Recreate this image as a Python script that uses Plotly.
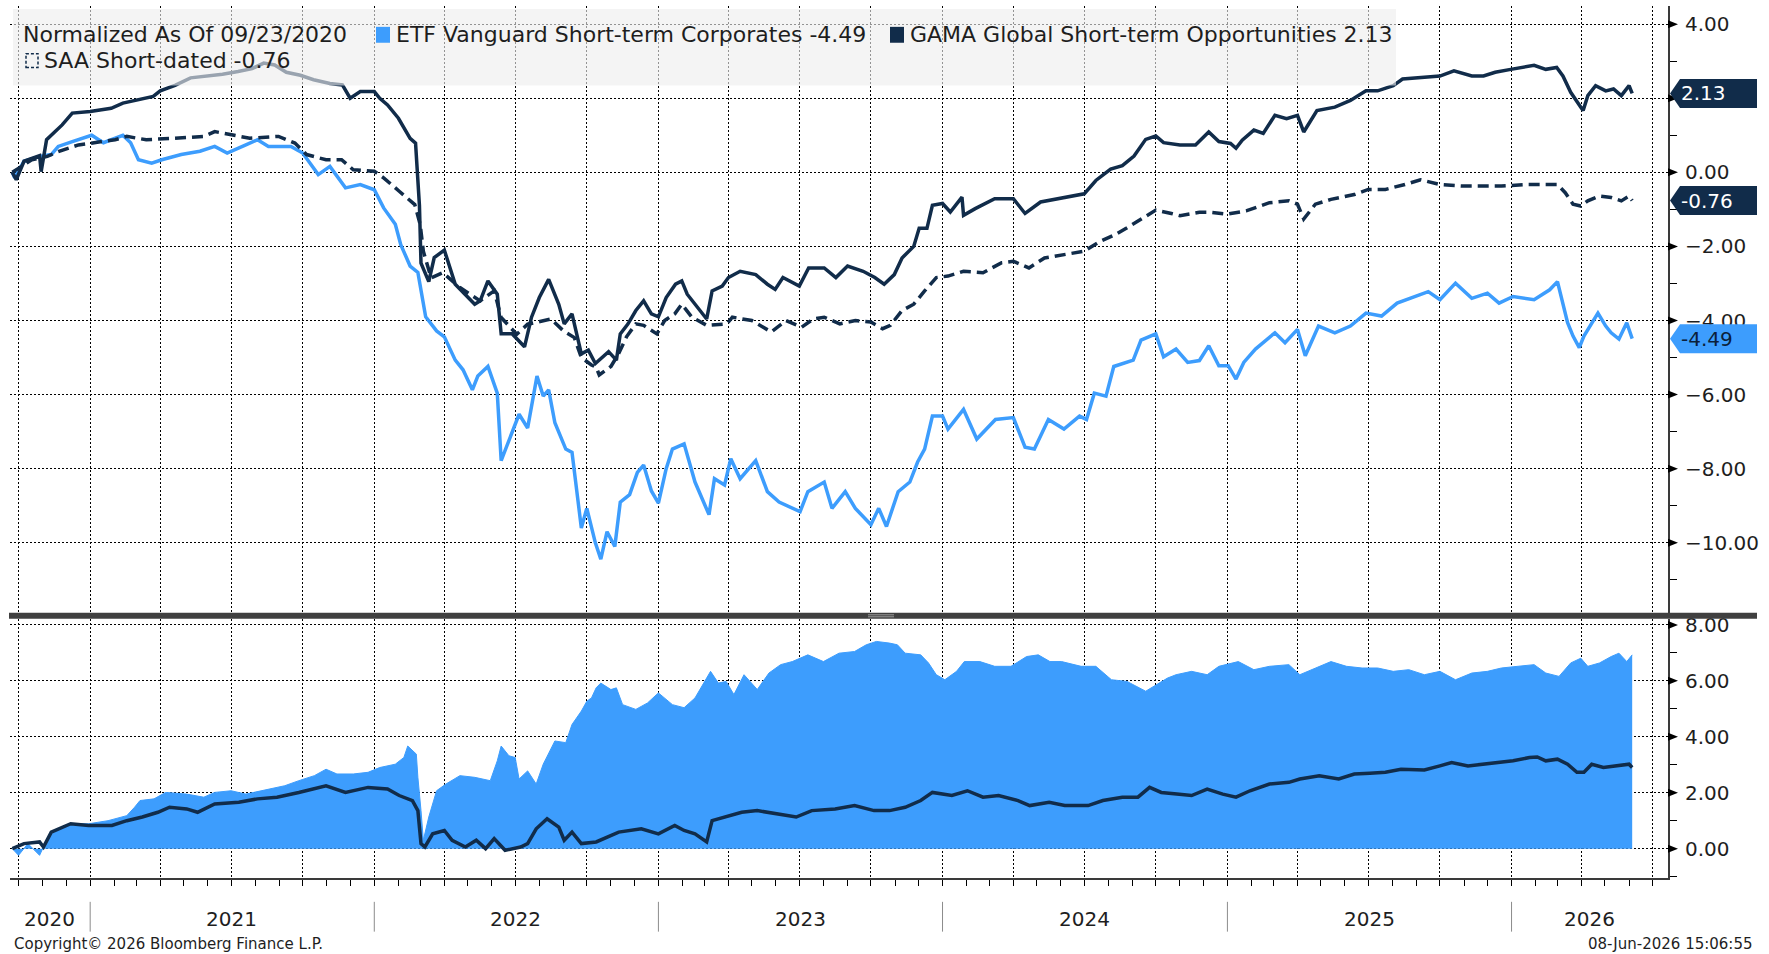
import plotly.graph_objects as go
from datetime import date, timedelta

# ---------------- data ----------------
gama_dates = ["2020-09-23","2020-09-28","2020-10-08","2020-10-20","2020-10-28","2020-10-30","2020-11-06","2020-11-26","2020-12-09","2021-01-01",
"2021-01-28","2021-02-12","2021-03-23","2021-04-01","2021-04-20","2021-05-10","2021-06-01","2021-06-20","2021-07-10","2021-07-28",
"2021-08-12","2021-08-26","2021-09-10","2021-09-28","2021-10-15","2021-11-05","2021-11-21","2021-12-01","2021-12-14","2022-01-01",
"2022-01-08","2022-01-18","2022-02-01","2022-02-16","2022-02-23","2022-02-28","2022-03-02","2022-03-12","2022-03-19","2022-04-01",
"2022-04-15","2022-04-30","2022-05-10","2022-05-17","2022-05-27","2022-06-08","2022-06-13","2022-06-27","2022-07-13","2022-07-22",
"2022-08-01","2022-08-13","2022-08-26","2022-09-02","2022-09-12","2022-09-24","2022-10-03","2022-10-12","2022-10-22","2022-10-29",
"2022-11-08","2022-11-13","2022-11-23","2022-12-03","2022-12-13","2022-12-23","2023-01-01","2023-01-11","2023-01-23","2023-01-31",
"2023-02-07","2023-02-17","2023-02-27","2023-03-04","2023-03-11","2023-03-24","2023-04-01","2023-04-16","2023-05-06","2023-05-21",
"2023-05-31","2023-06-10","2023-07-01","2023-07-13","2023-08-02","2023-08-17","2023-09-01","2023-09-21","2023-10-06","2023-10-18",
"2023-10-31","2023-11-10","2023-11-25","2023-12-02","2023-12-12","2023-12-19","2024-01-01","2024-01-11","2024-01-26","2024-01-28",
"2024-02-12","2024-03-08","2024-04-01","2024-04-16","2024-05-06","2024-05-31","2024-07-01","2024-07-16","2024-08-04","2024-08-19",
"2024-09-03","2024-09-18","2024-10-01","2024-10-11","2024-11-01","2024-11-21","2024-12-08","2024-12-21","2025-01-05","2025-01-12",
"2025-01-20","2025-02-04","2025-02-16","2025-03-03","2025-03-18","2025-04-01","2025-04-09","2025-04-26","2025-05-19","2025-06-08",
"2025-06-28","2025-07-13","2025-08-02","2025-08-14","2025-09-11","2025-10-01","2025-10-19","2025-11-11","2025-11-26","2025-12-11",
"2025-12-31","2026-01-30","2026-02-14","2026-02-28","2026-03-08","2026-03-18","2026-03-31","2026-04-03","2026-04-09","2026-04-19",
"2026-05-02","2026-05-12","2026-05-22","2026-06-01","2026-06-05"]
gama_values = [0.00,-0.20,0.30,0.40,0.45,0.02,0.88,1.28,1.60,1.64,
1.73,1.87,2.05,2.20,2.35,2.55,2.60,2.65,2.72,2.80,
2.95,2.90,2.70,2.62,2.50,2.40,2.36,2.00,2.18,2.18,
2.00,1.82,1.46,0.92,0.79,-0.90,-2.45,-2.95,-2.30,-2.10,
-3.02,-3.33,-3.56,-3.47,-2.93,-3.29,-4.36,-4.36,-4.71,-3.91,
-3.38,-2.89,-3.56,-4.09,-3.82,-4.90,-4.80,-5.16,-4.98,-4.84,
-5.07,-4.36,-4.09,-3.73,-3.47,-3.82,-3.90,-3.38,-3.02,-2.93,
-3.29,-3.56,-3.82,-3.96,-3.20,-3.07,-2.84,-2.67,-2.76,-3.02,
-3.16,-2.84,-3.07,-2.58,-2.58,-2.84,-2.53,-2.67,-2.84,-3.02,
-2.76,-2.31,-2.00,-1.51,-1.51,-0.89,-0.84,-1.07,-0.67,-1.16,
-0.98,-0.71,-0.71,-1.11,-0.80,-0.71,-0.58,-0.22,0.09,0.18,
0.44,0.89,0.98,0.80,0.74,0.74,1.09,0.83,0.78,0.65,
0.87,1.14,1.05,1.54,1.45,1.54,1.09,1.67,1.76,1.94,
2.20,2.20,2.34,2.52,2.56,2.60,2.74,2.60,2.60,2.70,
2.78,2.89,2.78,2.83,2.60,2.16,1.76,1.67,2.07,2.34,
2.20,2.25,2.07,2.34,2.13]

etf_dates = ["2020-09-23","2020-09-26","2020-10-08","2020-10-28","2020-11-12","2020-11-21","2020-12-09","2021-01-03","2021-01-18","2021-02-02",
"2021-02-12","2021-02-22","2021-03-04","2021-03-21","2021-04-03","2021-04-28","2021-05-22","2021-06-10","2021-06-26","2021-07-20",
"2021-08-04","2021-08-18","2021-09-16","2021-10-01","2021-10-21","2021-11-05","2021-11-25","2021-12-14","2022-01-01","2022-01-13",
"2022-01-28","2022-02-04","2022-02-16","2022-02-26","2022-03-08","2022-03-22","2022-04-01","2022-04-15","2022-04-25","2022-05-07",
"2022-05-14","2022-05-27","2022-06-08","2022-06-13","2022-06-22","2022-07-06","2022-07-17","2022-07-29","2022-08-06","2022-08-13",
"2022-08-21","2022-09-04","2022-09-12","2022-09-24","2022-10-01","2022-10-12","2022-10-19","2022-10-27","2022-11-06","2022-11-13",
"2022-11-25","2022-12-05","2022-12-13","2022-12-23","2023-01-01","2023-01-11","2023-01-19","2023-02-03","2023-02-17","2023-03-07",
"2023-03-14","2023-03-27","2023-04-04","2023-04-16","2023-05-06","2023-05-21","2023-06-05","2023-07-02","2023-07-12","2023-08-02",
"2023-08-12","2023-08-29","2023-09-11","2023-10-01","2023-10-11","2023-10-21","2023-11-05","2023-11-20","2023-11-30","2023-12-09",
"2023-12-19","2024-01-01","2024-01-08","2024-01-28","2024-02-14","2024-03-09","2024-04-01","2024-04-16","2024-04-28","2024-05-16",
"2024-06-05","2024-06-25","2024-07-04","2024-07-14","2024-07-29","2024-08-08","2024-09-02","2024-09-12","2024-10-01","2024-10-11",
"2024-10-27","2024-11-11","2024-11-26","2024-12-08","2024-12-21","2025-01-02","2025-01-12","2025-01-22","2025-02-06","2025-03-03",
"2025-03-16","2025-04-01","2025-04-11","2025-04-28","2025-05-19","2025-06-08","2025-06-28","2025-07-18","2025-08-07","2025-09-01",
"2025-09-16","2025-10-01","2025-10-21","2025-11-11","2025-12-01","2025-12-16","2026-01-03","2026-01-30","2026-02-19","2026-03-01",
"2026-03-06","2026-03-14","2026-03-21","2026-03-29","2026-04-04","2026-04-14","2026-04-22","2026-05-02","2026-05-09","2026-05-19",
"2026-05-29","2026-06-05"]
etf_values = [0.00,-0.15,0.30,0.43,0.48,0.70,0.83,1.00,0.80,0.92,
1.00,0.80,0.34,0.25,0.34,0.48,0.57,0.70,0.52,0.74,
0.88,0.70,0.70,0.52,-0.06,0.16,-0.42,-0.33,-0.47,-0.96,
-1.40,-1.95,-2.53,-2.70,-3.90,-4.28,-4.44,-5.07,-5.33,-5.87,
-5.50,-5.24,-5.96,-7.78,-7.30,-6.53,-6.90,-5.50,-6.04,-5.87,
-6.76,-7.47,-7.56,-9.60,-9.07,-10.00,-10.44,-9.70,-10.10,-8.90,
-8.70,-8.10,-7.90,-8.60,-8.93,-8.00,-7.47,-7.33,-8.36,-9.24,
-8.27,-8.44,-7.73,-8.27,-7.78,-8.62,-8.90,-9.16,-8.62,-8.36,
-9.07,-8.62,-9.07,-9.51,-9.07,-9.56,-8.62,-8.36,-7.82,-7.47,
-6.58,-6.58,-6.93,-6.40,-7.20,-6.67,-6.62,-7.42,-7.47,-6.67,
-6.93,-6.58,-6.67,-5.96,-6.04,-5.24,-5.07,-4.53,-4.36,-4.98,
-4.77,-5.13,-5.08,-4.68,-5.22,-5.22,-5.58,-5.13,-4.77,-4.33,
-4.60,-4.24,-4.95,-4.15,-4.33,-4.15,-3.80,-3.88,-3.53,-3.35,
-3.22,-3.44,-2.99,-3.40,-3.26,-3.53,-3.35,-3.44,-3.17,-2.95,
-3.35,-4.06,-4.42,-4.73,-4.42,-4.06,-3.80,-4.15,-4.33,-4.50,
-4.06,-4.49]

saa_dates = ["2020-09-23","2020-10-18","2020-11-07","2020-11-21","2020-12-17","2021-01-03","2021-02-02","2021-02-17","2021-03-14","2021-04-19",
"2021-05-27","2021-06-10","2021-07-01","2021-07-25","2021-08-31","2021-09-21","2021-10-06","2021-10-31","2021-11-20","2021-12-05",
"2022-01-01","2022-01-13","2022-02-02","2022-02-22","2022-03-01","2022-03-05","2022-03-15","2022-03-30","2022-04-21","2022-05-17",
"2022-06-04","2022-06-13","2022-07-03","2022-07-17","2022-07-28","2022-08-16","2022-09-01","2022-09-15","2022-09-24","2022-10-07",
"2022-10-13","2022-10-17","2022-11-01","2022-11-11","2022-11-21","2022-12-03","2022-12-13","2022-12-30","2023-01-09","2023-01-22",
"2023-01-31","2023-02-13","2023-03-04","2023-03-30","2023-04-06","2023-05-01","2023-05-26","2023-06-14","2023-07-04","2023-07-19",
"2023-08-02","2023-08-22","2023-09-11","2023-10-01","2023-10-16","2023-10-26","2023-11-10","2023-11-25","2023-12-09","2023-12-24",
"2024-01-08","2024-01-28","2024-02-22","2024-03-17","2024-04-01","2024-04-21","2024-05-11","2024-06-05","2024-07-01","2024-07-21",
"2024-08-09","2024-08-24","2024-09-13","2024-10-01","2024-10-21","2024-11-01","2024-11-26","2024-12-11","2024-12-31","2025-01-25",
"2025-02-24","2025-03-21","2025-04-01","2025-04-09","2025-04-24","2025-05-14","2025-06-13","2025-07-01","2025-07-23","2025-08-17",
"2025-09-06","2025-10-01","2025-10-31","2025-11-26","2025-12-19","2026-01-18","2026-03-01","2026-03-11","2026-03-21","2026-03-31",
"2026-04-09","2026-04-24","2026-05-09","2026-05-22","2026-06-01","2026-06-05"]
saa_values = [0.00,0.34,0.43,0.56,0.74,0.79,0.88,0.97,0.88,0.92,
0.97,1.10,1.01,0.92,0.97,0.79,0.48,0.34,0.34,0.07,
0.03,-0.15,-0.51,-0.87,-1.41,-2.13,-2.85,-2.71,-3.11,-3.47,
-3.20,-3.92,-4.37,-4.10,-4.05,-3.96,-4.28,-4.46,-5.00,-5.20,
-5.26,-5.47,-5.24,-4.89,-4.44,-4.09,-4.13,-4.36,-4.00,-3.82,
-3.56,-3.91,-4.13,-4.09,-3.91,-4.00,-4.31,-4.00,-4.18,-3.96,
-3.91,-4.09,-4.00,-4.04,-4.22,-4.13,-3.73,-3.56,-3.20,-2.84,
-2.80,-2.67,-2.71,-2.44,-2.40,-2.58,-2.31,-2.22,-2.13,-1.87,
-1.69,-1.51,-1.24,-1.02,-1.11,-1.17,-1.08,-1.08,-1.13,-1.04,
-0.82,-0.77,-0.86,-1.26,-0.86,-0.73,-0.60,-0.46,-0.46,-0.33,
-0.20,-0.33,-0.37,-0.37,-0.37,-0.33,-0.33,-0.55,-0.86,-0.91,
-0.77,-0.64,-0.68,-0.77,-0.64,-0.76]

# lower panel: spread vs ETF (area) and spread vs SAA (line)
spread_etf_dates = ["2020-09-23","2020-10-01","2020-10-13","2020-10-28","2020-11-02","2020-11-12","2020-12-07","2020-12-30","2021-01-24","2021-02-17",
"2021-02-27","2021-03-06","2021-03-24","2021-04-08","2021-05-05","2021-05-27","2021-06-10","2021-07-01","2021-07-20","2021-08-11",
"2021-09-08","2021-09-26","2021-10-16","2021-10-31","2021-11-14","2021-12-05","2021-12-24","2022-01-08","2022-01-28","2022-02-08",
"2022-02-13","2022-02-24","2022-02-26","2022-03-02","2022-03-05","2022-03-12","2022-03-22","2022-04-03","2022-04-21","2022-05-10",
"2022-05-30","2022-06-08","2022-06-13","2022-06-23","2022-07-01","2022-07-06","2022-07-17","2022-07-28","2022-08-06","2022-08-21",
"2022-09-04","2022-09-12","2022-09-24","2022-10-01","2022-10-07","2022-10-13","2022-10-19","2022-11-01","2022-11-08","2022-11-16",
"2022-12-03","2022-12-18","2023-01-01","2023-01-19","2023-02-03","2023-02-17","2023-03-09","2023-03-19","2023-03-29","2023-04-08",
"2023-04-21","2023-05-08","2023-05-23","2023-06-07","2023-06-22","2023-07-12","2023-08-01","2023-08-21","2023-09-10","2023-09-25",
"2023-10-08","2023-10-25","2023-11-04","2023-11-14","2023-12-04","2023-12-14","2023-12-24","2024-01-04","2024-01-19","2024-01-29",
"2024-02-18","2024-03-08","2024-03-29","2024-04-18","2024-05-03","2024-05-18","2024-06-02","2024-06-27","2024-07-16","2024-08-05",
"2024-08-25","2024-09-18","2024-10-01","2024-10-16","2024-10-27","2024-11-16","2024-12-06","2024-12-21","2025-01-15","2025-02-04",
"2025-02-24","2025-03-21","2025-04-04","2025-04-24","2025-05-14","2025-06-03","2025-06-23","2025-07-13","2025-08-02","2025-08-22",
"2025-09-11","2025-10-01","2025-10-21","2025-11-11","2025-12-01","2025-12-19","2026-01-13","2026-01-30","2026-02-14","2026-03-03",
"2026-03-18","2026-03-31","2026-04-09","2026-04-24","2026-05-09","2026-05-19","2026-05-29","2026-06-05"]
spread_etf_values = [0.00,-0.24,0.18,-0.24,0.06,0.53,0.89,0.89,1.00,1.18,
1.48,1.72,1.78,2.01,1.95,1.84,2.01,2.07,1.95,2.07,
2.25,2.43,2.61,2.84,2.67,2.67,2.73,2.90,3.02,3.26,
3.67,3.38,2.55,1.36,0.30,1.13,2.07,2.31,2.61,2.55,
2.43,3.14,3.67,3.32,3.26,2.49,2.78,2.31,3.02,3.85,
3.79,4.44,4.92,5.27,5.39,5.75,5.92,5.69,5.75,5.15,
4.98,5.21,5.57,5.15,5.04,5.39,6.34,5.92,5.98,5.51,
6.22,5.69,6.28,6.58,6.69,6.93,6.69,6.99,7.05,7.29,
7.41,7.35,7.29,6.99,6.93,6.64,6.22,6.04,6.34,6.69,
6.69,6.52,6.52,6.87,6.93,6.69,6.69,6.52,6.52,6.04,
5.98,5.63,5.86,6.10,6.22,6.34,6.22,6.52,6.69,6.40,
6.52,6.58,6.22,6.46,6.69,6.52,6.46,6.46,6.34,6.40,
6.22,6.34,6.04,6.28,6.34,6.46,6.52,6.58,6.28,6.16,
6.64,6.81,6.52,6.64,6.87,6.99,6.69,6.93]

spread_saa_dates = ["2020-09-23","2020-10-08","2020-10-28","2020-11-02","2020-11-12","2020-12-07","2020-12-30","2021-01-29","2021-02-17","2021-03-09",
"2021-03-29","2021-04-13","2021-05-05","2021-05-19","2021-06-10","2021-07-11","2021-08-04","2021-08-29","2021-09-26","2021-10-31",
"2021-11-25","2021-12-24","2022-01-18","2022-02-02","2022-02-19","2022-02-26","2022-03-02","2022-03-07","2022-03-17","2022-04-01",
"2022-04-11","2022-04-28","2022-05-12","2022-05-24","2022-06-04","2022-06-13","2022-06-18","2022-07-08","2022-07-17","2022-07-28",
"2022-08-11","2022-08-26","2022-09-02","2022-09-12","2022-09-24","2022-10-13","2022-11-11","2022-12-10","2023-01-01","2023-01-22",
"2023-02-03","2023-02-17","2023-03-04","2023-03-11","2023-03-29","2023-04-18","2023-05-08","2023-06-02","2023-06-27","2023-07-17",
"2023-08-16","2023-09-10","2023-10-05","2023-10-25","2023-11-14","2023-12-04","2023-12-19","2024-01-13","2024-02-02","2024-02-22",
"2024-03-13","2024-04-07","2024-04-22","2024-05-17","2024-06-06","2024-07-06","2024-07-25","2024-08-19","2024-09-08","2024-09-23",
"2024-10-08","2024-10-28","2024-11-16","2024-12-06","2024-12-26","2025-01-12","2025-01-30","2025-02-24","2025-03-21","2025-04-04",
"2025-04-29","2025-05-24","2025-06-13","2025-07-03","2025-07-23","2025-08-12","2025-09-11","2025-10-01","2025-10-16","2025-11-06",
"2025-11-26","2025-12-16","2026-01-03","2026-01-24","2026-02-03","2026-02-14","2026-03-01","2026-03-14","2026-03-26","2026-04-04",
"2026-04-14","2026-04-29","2026-05-19","2026-06-01","2026-06-05"]
spread_saa_values = [0.00,0.18,0.24,0.06,0.59,0.89,0.83,0.83,1.00,1.13,
1.30,1.48,1.42,1.30,1.60,1.66,1.78,1.84,2.01,2.25,
2.01,2.19,2.13,1.90,1.72,1.36,0.18,0.06,0.53,0.65,
0.30,0.06,0.30,0.00,0.36,0.06,-0.06,0.06,0.18,0.71,
1.07,0.77,0.30,0.59,0.18,0.24,0.59,0.71,0.53,0.83,
0.65,0.53,0.24,1.00,1.13,1.30,1.36,1.24,1.13,1.36,
1.42,1.54,1.36,1.36,1.48,1.72,2.01,1.90,2.07,1.84,
1.90,1.72,1.54,1.66,1.54,1.54,1.72,1.84,1.84,2.19,
2.01,1.95,1.90,2.13,1.95,1.84,2.07,2.31,2.37,2.49,
2.61,2.49,2.67,2.70,2.73,2.84,2.81,2.96,3.08,2.96,
3.02,3.08,3.14,3.26,3.28,3.14,3.20,3.02,2.73,2.73,
3.02,2.90,2.96,3.02,2.90]

legend_title = "Normalized As Of 09/23/2020"
etf_name = "ETF Vanguard Short-term Corporates"
gama_name = "GAMA Global Short-term Opportunities"
saa_name = "SAA Short-dated"
top_ticks = [-10, -8, -6, -4, -2, 0, 2, 4]
bottom_ticks = [0, 2, 4, 6, 8]
years = [2020, 2021, 2022, 2023, 2024, 2025, 2026]

# ---------------- styling ----------------
W, H = 1769, 954
ML, MR, MT, MB = 10, 101, 0, 76
PW = W - ML - MR          # plot width in px
PH = H - MT - MB          # plot height in px
NAVY = "#112c4a"
BLUE = "#3d9dfd"
FONT = "DejaVu Sans"
TXT = "#1e1e1e"
X_START, X_END = "2020-09-20", "2026-07-21"

def px_x(x):   # figure pixel -> paper x
    return (x - ML) / PW

def px_y(y):   # figure pixel -> paper y
    return (MT + PH - y) / PH

top_dom = [px_y(611), 1.0]
bot_dom = [0.0, px_y(617)]

fig = go.Figure()
fig.add_trace(go.Scatter(x=etf_dates, y=etf_values, mode="lines", line=dict(color=BLUE, width=3.5),
                         xaxis="x", yaxis="y", showlegend=False))
fig.add_trace(go.Scatter(x=saa_dates, y=saa_values, mode="lines", line=dict(color=NAVY, width=3.5, dash="11px,6px"),
                         xaxis="x", yaxis="y", showlegend=False))
fig.add_trace(go.Scatter(x=gama_dates, y=gama_values, mode="lines", line=dict(color=NAVY, width=3.5),
                         xaxis="x", yaxis="y", showlegend=False))
fig.add_trace(go.Scatter(x=spread_etf_dates, y=spread_etf_values, mode="lines", fill="tozeroy",
                         fillcolor=BLUE, line=dict(color=BLUE, width=1), xaxis="x2", yaxis="y2", showlegend=False))
fig.add_trace(go.Scatter(x=spread_saa_dates, y=spread_saa_values, mode="lines", line=dict(color=NAVY, width=3.5),
                         xaxis="x2", yaxis="y2", showlegend=False))

grid = dict(showgrid=True, gridcolor="#000000", gridwidth=1, griddash="2px,2px")
xcommon = dict(type="date", range=[X_START, X_END], dtick="M3", tick0="2000-01-01", zeroline=False, **grid)
ycommon = dict(side="right", zeroline=False, showline=True, linecolor="#3a3a3a", linewidth=2,
               ticks="outside", ticklen=11, tickcolor="rgba(0,0,0,0)", tickformat=".2f",
               tickfont=dict(family=FONT, size=20, color=TXT), **grid)

fig.update_layout(
    width=W, height=H, margin=dict(l=ML, r=MR, t=MT, b=MB),
    paper_bgcolor="white", plot_bgcolor="white",
    xaxis=dict(domain=[0, 1], anchor="y", showticklabels=False, ticks="", **xcommon),
    yaxis=dict(domain=top_dom, anchor="x", range=[-11.89, 4.49], tickvals=top_ticks,
               minor=dict(tickvals=[-11, -9, -7, -5, -3, -1, 1, 3], ticks="outside", ticklen=7,
                          tickcolor="#000", showgrid=False), **ycommon),
    xaxis2=dict(domain=[0, 1], anchor="y2", matches="x", showticklabels=False, ticks="outside",
                ticklen=6, tickcolor="#000", showline=True, linecolor="#3a3a3a", linewidth=2,
                minor=dict(dtick="M1", ticks="outside", ticklen=6, tickcolor="#000", showgrid=False),
                **xcommon),
    yaxis2=dict(domain=bot_dom, anchor="x2", range=[-1.05, 8.22], tickvals=bottom_ticks,
                minor=dict(tickvals=[-1, 1, 3, 5, 7], ticks="outside", ticklen=7,
                           tickcolor="#000", showgrid=False), **ycommon),
    font=dict(family=FONT, color=TXT),
)

shapes = []
annotations = []

# separator bar between the panels
shapes.append(dict(type="rect", xref="paper", yref="paper", x0=px_x(9), x1=px_x(1757),
                   y0=px_y(617), y1=px_y(611), fillcolor="#404040", line=dict(width=0), layer="above"))
for dy in (613, 615):
    shapes.append(dict(type="line", xref="paper", yref="paper", x0=px_x(868), x1=px_x(894),
                       y0=px_y(dy), y1=px_y(dy), line=dict(color="#9a9a9a", width=1), layer="above"))

# arrowhead major ticks on the right axes
for yr, vals in (("y", top_ticks), ("y2", bottom_ticks)):
    for v in vals:
        shapes.append(dict(type="path", xref="paper", yref=yr, xsizemode="pixel", ysizemode="pixel",
                           xanchor=1, yanchor=v, path="M 0,4 L 10,0 L 0,-4 Z",
                           fillcolor="#000", line=dict(width=0), layer="above"))

# legend box
shapes.append(dict(type="rect", xref="paper", yref="paper", x0=px_x(13), x1=px_x(1396),
                   y0=px_y(80), y1=px_y(3), fillcolor="rgba(238,238,238,0.62)", line=dict(width=0),
                   layer="above"))
shapes.append(dict(type="rect", xref="paper", yref="paper", x0=px_x(376), x1=px_x(390),
                   y0=px_y(37), y1=px_y(21), fillcolor=BLUE, line=dict(width=0), layer="above"))
shapes.append(dict(type="rect", xref="paper", yref="paper", x0=px_x(890), x1=px_x(904),
                   y0=px_y(37), y1=px_y(21), fillcolor=NAVY, line=dict(width=0), layer="above"))
shapes.append(dict(type="rect", xref="paper", yref="paper", x0=px_x(26), x1=px_x(38),
                   y0=px_y(62), y1=px_y(48), fillcolor="rgba(0,0,0,0)",
                   line=dict(color=NAVY, width=1.5, dash="3px,2px"), layer="above"))

leg_font = dict(family=FONT, size=22, color=TXT)
annotations.append(dict(xref="paper", yref="paper", x=px_x(21), y=px_y(29), xanchor="left", yanchor="middle",
                        text=legend_title, showarrow=False, font=leg_font))
annotations.append(dict(xref="paper", yref="paper", x=px_x(394), y=px_y(29), xanchor="left", yanchor="middle",
                        text=f"{etf_name} {etf_values[-1]:.2f}", showarrow=False, font=leg_font))
annotations.append(dict(xref="paper", yref="paper", x=px_x(908), y=px_y(29), xanchor="left", yanchor="middle",
                        text=f"{gama_name} {gama_values[-1]:.2f}", showarrow=False, font=leg_font))
annotations.append(dict(xref="paper", yref="paper", x=px_x(42), y=px_y(55), xanchor="left", yanchor="middle",
                        text=f"{saa_name} {saa_values[-1]:.2f}", showarrow=False, font=leg_font))

# last-value tags on the right axis
for vals, bg, fg in ((gama_values, NAVY, "white"), (saa_values, NAVY, "white"), (etf_values, BLUE, "#0b1f3a")):
    last = vals[-1]
    shapes.append(dict(type="path", xref="paper", yref="y", xsizemode="pixel", ysizemode="pixel",
                       xanchor=1, yanchor=last, path="M 2,0 L 12,14.5 L 89,14.5 L 89,-14.5 L 12,-14.5 Z",
                       fillcolor=bg, line=dict(width=0), layer="above"))
    annotations.append(dict(xref="paper", yref="y", x=1, y=last, xanchor="left", yanchor="middle", xshift=11,
                            text=f"{last:.2f}", showarrow=False, font=dict(family=FONT, size=20, color=fg)))

# year labels centred on the visible part of each year, with separators
d0 = date.fromisoformat(X_START)
d1 = date.fromisoformat(X_END)
for yv in years:
    a = max(date(yv, 1, 1), d0)
    b = min(date(yv + 1, 1, 1), d1)
    mid = a + (b - a) / 2
    annotations.append(dict(xref="x2", yref="paper", x=mid.isoformat(), y=px_y(919), xanchor="center",
                            yanchor="middle", text=str(yv), showarrow=False,
                            font=dict(family=FONT, size=20, color=TXT)))
    if date(yv, 1, 1) > d0:
        shapes.append(dict(type="line", xref="x2", yref="paper", x0=f"{yv}-01-01", x1=f"{yv}-01-01",
                           y0=px_y(902), y1=px_y(932), line=dict(color="#8c8c8c", width=1)))

annotations.append(dict(xref="paper", yref="paper", x=px_x(12), y=px_y(944), xanchor="left", yanchor="middle",
                        text="Copyright© 2026 Bloomberg Finance L.P.", showarrow=False,
                        font=dict(family=FONT, size=15, color=TXT)))
annotations.append(dict(xref="paper", yref="paper", x=px_x(1755), y=px_y(944), xanchor="right", yanchor="middle",
                        text="08-Jun-2026 15:06:55", showarrow=False,
                        font=dict(family=FONT, size=15, color=TXT)))

fig.update_layout(shapes=shapes, annotations=annotations)
fig.write_html("out.html", config={"displayModeBar": False},
               post_script="document.body.style.margin='0';document.body.style.padding='0';"
                           "document.documentElement.style.overflow='hidden';")
